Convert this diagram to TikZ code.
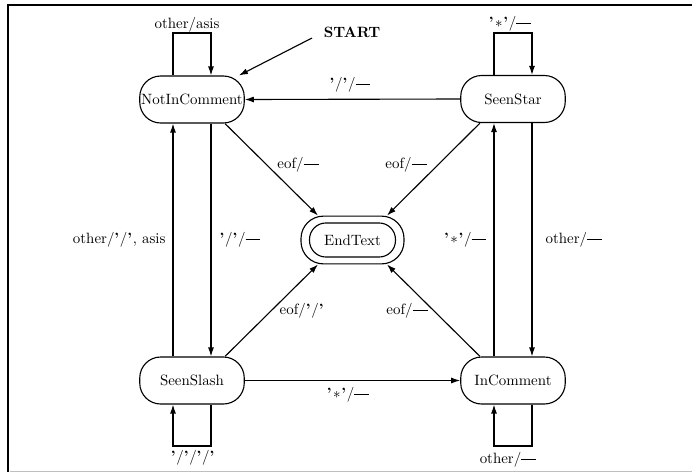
\documentclass[tikz,border=0pt]{standalone}
\usetikzlibrary{arrows.meta,calc}
\newcommand\myq{\textbf{'}\kern0.5pt}
\newcommand\mystar{\kern0.5pt$\ast$\kern0.5pt}
\newcommand\mydash{\rule[2.5pt]{10pt}{0.6pt}}
\begin{document}
\begin{tikzpicture}[x=0.67pt,y=-0.67pt,
  every path/.style={line width=0.75pt},
  state/.style={draw, line width=0.75pt, rounded corners=14pt, minimum width=70pt, minimum height=31.5pt, inner sep=0pt},
  arr/.style={-{Latex[length=6pt,width=4pt]}, line width=0.75pt},
  lbl/.style={inner sep=0pt}]
\useasboundingbox (0,0) rectangle (692,472);
% frame
\draw[line width=0.9pt] (8,472) -- (8,5) -- (692,5);
\draw[line width=0.5pt, black!25] (10,471) -- (692,471);
% states
\node[state] (nic) at (192,99.5) {NotInComment};
\node[state] (ss) at (513,99) {SeenStar};
\node[state] (sl) at (192,380.5) {SeenSlash};
\node[state] (ic) at (513,380.5) {InComment};
\node[state, minimum width=69pt, minimum height=32pt, rounded corners=15pt] (end) at (352.5,240) {};
\node[state, minimum width=57.6pt, minimum height=22.8pt, rounded corners=11pt] (endin) at (end) {EndText};
% loop corner coordinates
\coordinate (nicL) at (173,33);
\coordinate (nicR) at (211,33);
\coordinate (ssL) at (494,33);
\coordinate (ssR) at (532,33);
\coordinate (slL) at (173,446);
\coordinate (slR) at (211,446);
\coordinate (icL) at (494,446);
\coordinate (icR) at (532,446);
% self loops
\draw[arr] (nicL |- nic.north) -- (nicL) -- (nicR) -- (nicR |- nic.north);
\draw[arr] (ssL |- ss.north) -- (ssL) -- (ssR) -- (ssR |- ss.north);
\draw[arr] (slR |- sl.south) -- (slR) -- (slL) -- (slL |- sl.south);
\draw[arr] (icR |- ic.south) -- (icR) -- (icL) -- (icL |- ic.south);
\node[lbl] (l1) at (187,25) {other/asis};
\node[lbl] (l2) at (510,24) {\myq\mystar\myq/\mydash};
\node[lbl] (l3) at (193,458) {\myq/\myq/\myq/\myq};
\node[lbl] (l4) at (508,460) {other/\mydash};
% start
\node[lbl] (start) at (352,32) {\textbf{START}};
\coordinate (startA) at (312,38);
\draw[arr] (startA) -- (nic);
% horizontal
\draw[arr] (ss.west) -- (nic.east);
\node[lbl] (l5) at (350,85) {\myq/\myq/\mydash};
\draw[arr] (sl.east) -- (ic.west);
\node[lbl] (l6) at (348,395) {\myq\mystar\myq/\mydash};
% verticals
\draw[arr] (nicR |- nic.south) -- (nicR |- sl.north);
\draw[arr] (nicL |- sl.north) -- (nicL |- nic.south);
\draw[arr] (ssR |- ss.south) -- (ssR |- ic.north);
\draw[arr] (ssL |- ic.north) -- (ssL |- ss.south);
\node[lbl, anchor=east] (l7) at (166,240) {other/\myq/\myq, asis};
\node[lbl, anchor=west] (l8) at (219,240) {\myq/\myq/\mydash};
\node[lbl, anchor=east] (l9) at (487,240) {\myq\mystar\myq/\mydash};
\node[lbl, anchor=west] (l10) at (545,240) {other/\mydash};
% diagonals
\draw[arr] ($(nic.south)+(33,0)$) -- ($(end.north)+(-34.5,0)$);
\draw[arr] ($(ss.south)+(-33,0)$) -- ($(end.north)+(34.5,0)$);
\draw[arr] ($(sl.north)+(33,0)$) -- ($(end.south)+(-34.5,0)$);
\draw[arr] ($(ic.north)+(-33,0)$) -- ($(end.south)+(34.5,0)$);
\node[lbl] (l11) at (298,165) {eof/\mydash};
\node[lbl] (l12) at (406,165) {eof/\mydash};
\node[lbl] (l13) at (302,311) {eof/\myq/\myq};
\node[lbl] (l14) at (407,311) {eof/\mydash};
\end{tikzpicture}
\end{document}
